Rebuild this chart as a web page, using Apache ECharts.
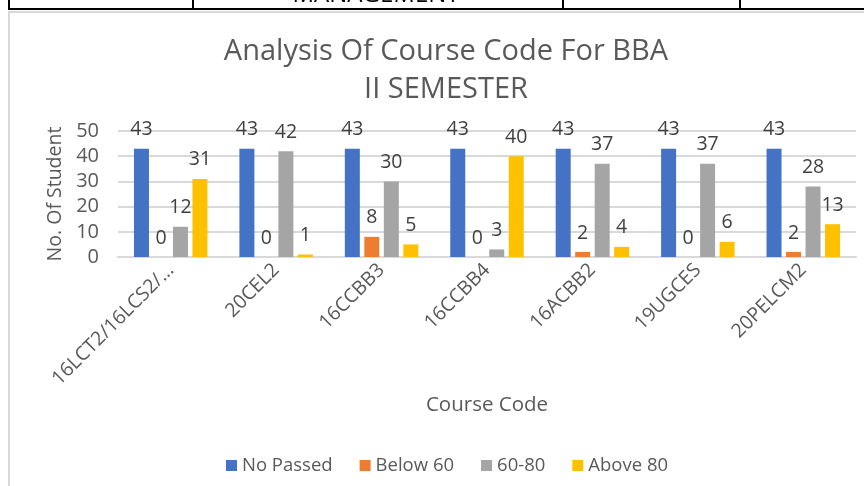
<!DOCTYPE html>
<html>
<head>
<meta charset="utf-8">
<script src="https://cdn.jsdelivr.net/npm/echarts@6/dist/echarts.min.js"></script>
<style>
  html, body { margin: 0; padding: 0; background: #fff; }
  #main { width: 864px; height: 486px; }
</style>
</head>
<body>
<div id="main"></div>
<script>
    // 数据
    var courses = ['16LCT2/16LCS2/…', '20CEL2', '16CCBB3', '16CCBB4', '16ACBB2', '19UGCES', '20PELCM2'];
    var noPassed = [43, 43, 43, 43, 43, 43, 43];
    var below60 = [0, 0, 8, 0, 2, 0, 2];
    var from60to80 = [12, 42, 30, 3, 37, 37, 28];
    var above80 = [31, 1, 5, 40, 4, 6, 13];
    var seriesNames = ['No Passed', 'Below 60', '60-80', 'Above 80'];
    var yTicks = { min: 0, max: 50, interval: 10 };

    var font = '"Open Sans", sans-serif';
    var colors = ['#4472C4', '#ED7D31', '#A5A5A5', '#FFC000'];

    function makeSeries(name, data, color) {
        return {
            name: name,
            type: 'bar',
            data: data,
            color: color,
            barWidth: 15,
            barGap: '30%',
            label: {
                show: true,
                position: 'top',
                distance: 9,
                color: '#404040',
                fontSize: 19.5,
                fontFamily: font
            }
        };
    }

    var myChart = echarts.init(document.getElementById('main'), null, { renderer: 'canvas' });
    myChart.setOption({
        animation: false,
        backgroundColor: '#fff',
        textStyle: { fontFamily: font },
        title: {
            text: 'Analysis Of Course Code For BBA\nII SEMESTER',
            left: 441,
            textAlign: 'center',
            top: 28,
            textStyle: {
                fontSize: 29,
                fontWeight: 'normal',
                color: '#595959',
                lineHeight: 38,
                fontFamily: font
            }
        },
        legend: {
            top: 451,
            left: 221,
            itemWidth: 11,
            itemHeight: 11,
            itemGap: 27,
            icon: 'rect',
            data: seriesNames,
            textStyle: { fontSize: 18.5, color: '#595959', fontFamily: font }
        },
        grid: {
            left: 118,
            right: 8,
            top: 131,
            bottom: 229
        },
        xAxis: {
            type: 'category',
            data: courses,
            name: 'Course Code',
            nameLocation: 'middle',
            nameGap: 138,
            nameTextStyle: { fontSize: 20.5, color: '#595959' },
            axisLine: { lineStyle: { color: '#d9d9d9', width: 2 } },
            axisTick: { show: false },
            axisLabel: {
                rotate: 45,
                fontSize: 19.5,
                color: '#595959',
                margin: 10,
                interval: 0
            }
        },
        yAxis: {
            type: 'value',
            min: yTicks.min,
            max: yTicks.max,
            interval: yTicks.interval,
            name: 'No. Of Student',
            nameLocation: 'middle',
            nameGap: 50,
            nameTextStyle: { fontSize: 19.5, color: '#595959' },
            axisLine: { show: false },
            axisTick: { show: false },
            axisLabel: { fontSize: 20, color: '#595959', margin: 19 },
            splitLine: { lineStyle: { color: '#d9d9d9', width: 2 } }
        },
        series: [
            makeSeries(seriesNames[0], noPassed, colors[0]),
            makeSeries(seriesNames[1], below60, colors[1]),
            makeSeries(seriesNames[2], from60to80, colors[2]),
            makeSeries(seriesNames[3], above80, colors[3])
        ],
        graphic: [
            // 上方表格的边框
            { type: 'line', shape: { x1: 8, y1: 9, x2: 864, y2: 9 }, style: { stroke: '#000', lineWidth: 2 } },
            { type: 'line', shape: { x1: 9, y1: 0, x2: 9, y2: 9 }, style: { stroke: '#000', lineWidth: 2 } },
            { type: 'line', shape: { x1: 193, y1: 0, x2: 193, y2: 9 }, style: { stroke: '#000', lineWidth: 2 } },
            { type: 'line', shape: { x1: 563, y1: 0, x2: 563, y2: 9 }, style: { stroke: '#000', lineWidth: 2 } },
            { type: 'line', shape: { x1: 740, y1: 0, x2: 740, y2: 9 }, style: { stroke: '#000', lineWidth: 2 } },
            { type: 'text', x: 376, y: -17, style: { text: 'MANAGEMENT', fontSize: 24, fill: '#000', fontFamily: font, align: 'center' } },
            // 图表外框
            { type: 'line', shape: { x1: 8, y1: 12, x2: 864, y2: 12 }, style: { stroke: '#d9d9d9', lineWidth: 2 } },
            { type: 'line', shape: { x1: 9, y1: 12, x2: 9, y2: 486 }, style: { stroke: '#d9d9d9', lineWidth: 2 } }
        ]
    });
</script>
</body>
</html>
